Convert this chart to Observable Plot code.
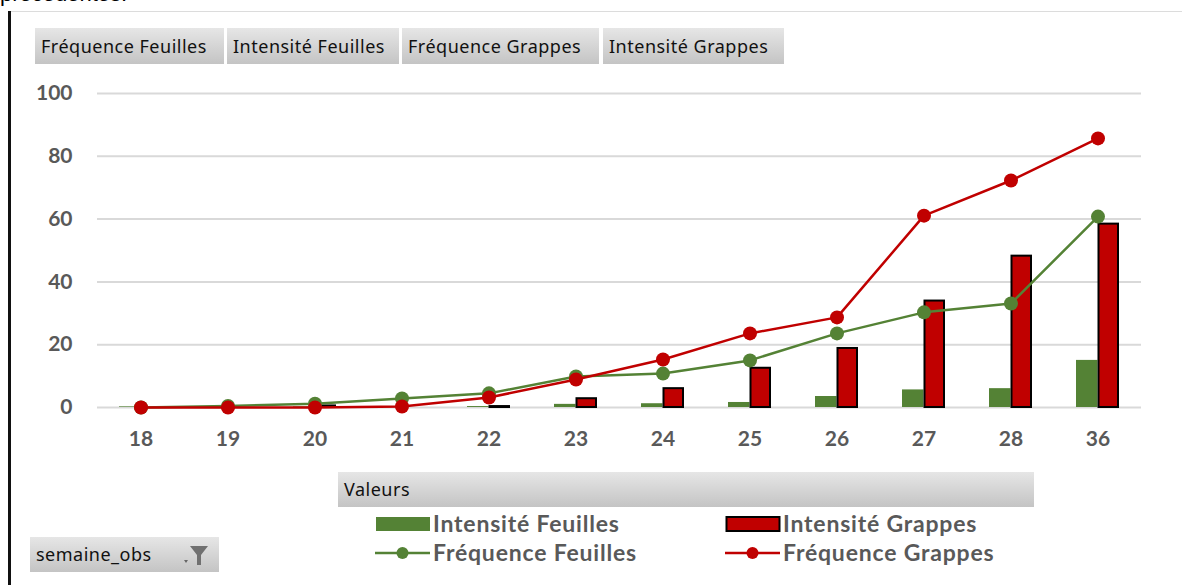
<!DOCTYPE html>
<html>
<head>
<meta charset="utf-8">
<script src="https://cdn.jsdelivr.net/npm/d3@7"></script>
<script src="https://cdn.jsdelivr.net/npm/@observablehq/plot@0.6"></script>
<style>
  html, body { margin: 0; padding: 0; background: #fff; }
  body { width: 1182px; height: 585px; position: relative; overflow: hidden; font-family: "Noto Sans", "DejaVu Sans", sans-serif; }
  .topcut { position: absolute; left: 0; top: -19px; font-family: "Liberation Sans", sans-serif; font-size: 22px; color: #000; }
  .hline { position: absolute; left: 10px; top: 11px; width: 1172px; height: 1px; background: #dcdcdc; }
  .vline { position: absolute; left: 8px; top: 11px; width: 3px; height: 580px; background: #111; }
  .btn { position: absolute; height: 36px; line-height: 36px; box-sizing: border-box; padding-left: 6px;
         background: linear-gradient(#e6e6e6, #c4c4c4); color: #111; font-size: 18px; letter-spacing: 0.5px; border-right: 1px solid #fff; }
  #chart { position: absolute; left: 0; top: 70px; }
  .leg { position: absolute; font-family: Lato, "Open Sans", sans-serif; font-weight: bold; font-size: 23px; letter-spacing: 0.8px; color: #595959; white-space: nowrap; }
  .legsw { position: absolute; }
</style>
</head>
<body>
<div class="topcut">précédentes.</div>
<div class="hline"></div>
<div class="vline"></div>
<div id="fields"></div>
<div id="chart"></div>
<div class="btn" style="left:338px; top:472px; width:697px; height:35px; line-height:35px;">Valeurs</div>
<div class="btn" style="left:30px; top:537px; width:190px; height:35px; line-height:35px;">semaine_obs
  <svg width="30" height="24" style="position:absolute; left:150px; top:6px;">
    <path d="M4 17 L8 17 L6 20 Z" fill="#666"/>
    <path d="M10 3 L28 3 L21 12 L21 22 L17 22 L17 12 Z" fill="#707070"/>
  </svg>
</div>
<div id="legend"></div>
<script>
const weeks = ["18","19","20","21","22","23","24","25","26","27","28","36"];
const intensiteFeuilles = [0.2, 0.1, 0.2, 0.1, 0.3, 1.0, 1.2, 1.6, 3.5, 5.6, 6.0, 15.0];
const intensiteGrappes  = [0, 0, 0.5, 0, 0.3, 2.8, 6.0, 12.5, 18.8, 33.9, 48.2, 58.4];
const frequenceFeuilles = [0, 0.5, 1.2, 2.9, 4.5, 9.9, 10.8, 15.0, 23.6, 30.3, 33.1, 60.8];
const frequenceGrappes  = [0, 0, 0, 0.3, 3.2, 8.9, 15.3, 23.6, 28.7, 61.1, 72.3, 85.7];
const fieldButtons = ["Fréquence Feuilles", "Intensité Feuilles", "Fréquence Grappes", "Intensité Grappes"];
const yTicks = [0, 20, 40, 60, 80, 100];

const green = "#548235", red = "#c00000", grey = "#595959";

const rows = weeks.map((w, i) => ({
  week: w, iF: intensiteFeuilles[i], iG: intensiteGrappes[i],
  fF: frequenceFeuilles[i], fG: frequenceGrappes[i]
}));

// field buttons
const btnPos = [[35, 190], [227, 173], [402, 198], [603, 182]];
const fields = document.getElementById("fields");
fieldButtons.forEach((t, i) => {
  const d = document.createElement("div");
  d.className = "btn";
  d.style.left = btnPos[i][0] + "px"; d.style.top = "28px"; d.style.width = btnPos[i][1] + "px";
  d.textContent = t;
  fields.appendChild(d);
});

const plot = Plot.plot({
  width: 1182,
  height: 390,
  marginTop: 23,
  marginBottom: 53,
  marginLeft: 97,
  marginRight: 41,
  style: { fontFamily: "Lato, 'Open Sans', sans-serif", fontSize: "21px", fontWeight: "bold", color: grey, background: "transparent" },
  x: { type: "band", domain: weeks, padding: 0, label: null },
  y: { domain: [0, 100], label: null },
  marks: [
    Plot.ruleY(yTicks, { stroke: "#d9d9d9", strokeWidth: 2 }),
    Plot.axisY(yTicks, { tickSize: 0, tickPadding: 25, fill: grey, fontWeight: "bold", fontSize: 21, label: null }),
    Plot.axisX({ tickSize: 0, tickPadding: 24, fill: grey, fontWeight: "bold", fontSize: 21, label: null }),
    Plot.barY(rows, { x: "week", y: "iF", fill: green, insetLeft: 22, insetRight: 43.5 }),
    Plot.barY(rows, { x: "week", y: "iG", fill: red, stroke: "#000", strokeWidth: 2, insetLeft: 44.5, insetRight: 23 }),
    Plot.line(rows, { x: "week", y: "fF", stroke: green, strokeWidth: 2.5 }),
    Plot.dot(rows, { x: "week", y: "fF", fill: green, r: 7 }),
    Plot.line(rows, { x: "week", y: "fG", stroke: red, strokeWidth: 2.5 }),
    Plot.dot(rows, { x: "week", y: "fG", fill: red, r: 7 })
  ]
});
document.getElementById("chart").appendChild(plot);

// legend
const legendItems = [
  { label: "Intensité Feuilles", kind: "bar", color: green, x: 375, y: 512 },
  { label: "Intensité Grappes", kind: "barStroke", color: red, x: 725, y: 512 },
  { label: "Fréquence Feuilles", kind: "line", color: green, x: 375, y: 541 },
  { label: "Fréquence Grappes", kind: "line", color: red, x: 725, y: 541 }
];
const legend = document.getElementById("legend");
legendItems.forEach(it => {
  const sw = document.createElementNS("http://www.w3.org/2000/svg", "svg");
  sw.setAttribute("width", 56); sw.setAttribute("height", 24);
  sw.setAttribute("class", "legsw");
  sw.style.left = it.x + "px"; sw.style.top = it.y + "px";
  if (it.kind === "bar") {
    sw.innerHTML = `<rect x="1" y="5" width="54" height="14" fill="${it.color}"/>`;
  } else if (it.kind === "barStroke") {
    sw.innerHTML = `<rect x="1.5" y="5" width="53" height="14" fill="${it.color}" stroke="#000" stroke-width="2"/>`;
  } else {
    sw.innerHTML = `<line x1="0" y1="12" x2="55" y2="12" stroke="${it.color}" stroke-width="2.5"/><circle cx="27.5" cy="12" r="6" fill="${it.color}"/>`;
  }
  legend.appendChild(sw);
  const t = document.createElement("div");
  t.className = "leg";
  t.style.left = (it.x + 58) + "px"; t.style.top = (it.y - 3) + "px";
  t.textContent = it.label;
  legend.appendChild(t);
});
</script>
</body>
</html>
